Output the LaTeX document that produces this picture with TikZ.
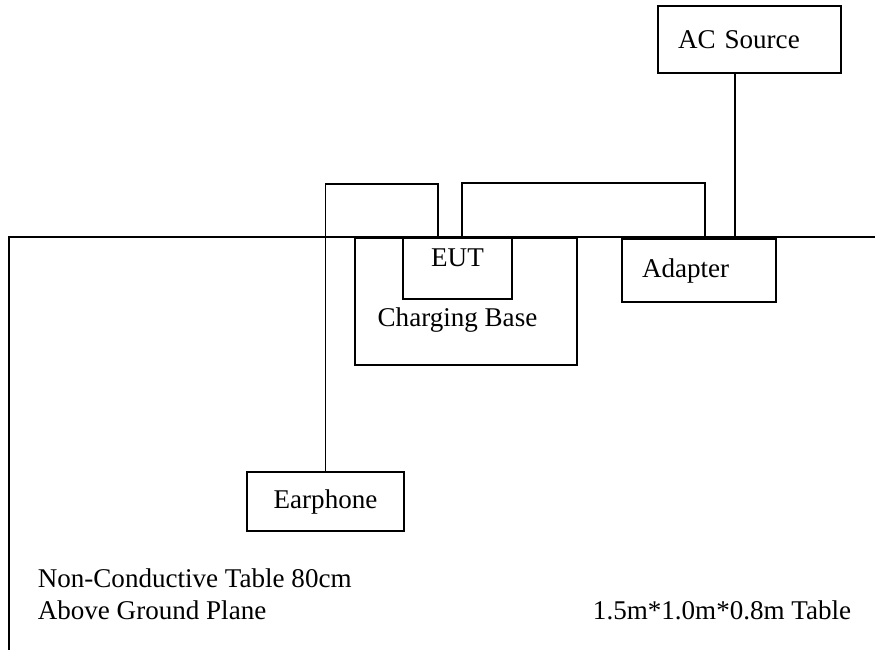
\documentclass[tikz,border=0pt]{standalone}
\usepackage{fontspec}
\setmainfont{Liberation Serif}
\usetikzlibrary{positioning, calc}

\begin{document}
\begin{tikzpicture}[x=0.75pt, y=-0.75pt, line width=1.2pt,
  every node/.style={font=\fontsize{20.3}{24}\selectfont, inner sep=0pt},
  box/.style 2 args={draw, minimum width=#1pt, minimum height=#2pt},
  padbox/.style={align=left, inner xsep=15pt, text width=#1pt}]
\useasboundingbox (0,0) rectangle (875,650);

% table edge
\draw (9,650) -- (9,237) -- (875,237);

\node[box={137.25}{50.25}, padbox=107.25] (acsrc) at (749.5,39.5) {AC Source};
\node[box={115.5}{47.25}, padbox=85.5] (adapter) at (699,270.5) {Adapter};
\node[box={166.5}{95.25}] (base) at (466,301.5) {};
\node[box={81.75}{45.75}] (eut) at (457.5,268.5) {};
\node[below=8pt of eut.north] (euttxt) {EUT};
\node[below=5pt of eut.south] (basetxt) {Charging Base};
\node[box={117.75}{44.25}] (earph) at (325.5,501.5) {Earphone};

% cables
\draw (earph.north) |- ($(eut.north)+(-19.5,-53)$) -- ($(eut.north)+(-19.5,0)$);
\draw ($(eut.north)+(4.5,0)$) |- ($(adapter.north)+(6,-55)$) -- ($(adapter.north)+(6,0)$);
\draw ($(acsrc.south)+(-14.5,0)$) coordinate (acw) -- (acw |- adapter.north);

\node[align=left, anchor=west] (note) at (37,594) {Non-Conductive Table 80cm\\Above Ground Plane};
\node[anchor=east] (size) at (852,610) {1.5m*1.0m*0.8m Table};
\end{tikzpicture}
\end{document}
